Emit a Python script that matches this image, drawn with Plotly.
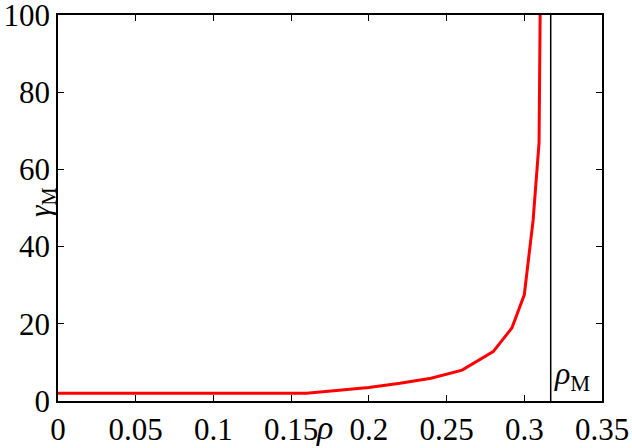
import plotly.graph_objects as go

# red curve gamma_M(rho)
rho = [0.0, 0.05, 0.10, 0.16, 0.20, 0.22, 0.24, 0.26, 0.28, 0.292, 0.300, 0.3057, 0.3095, 0.3102]
gamma_m = [2.0, 2.0, 2.0, 2.0, 3.5, 4.6, 5.9, 8.0, 12.8, 18.9, 27.5, 46.9, 66.9, 100.0]

rho_m = 0.317  # vertical marker line

x_ticks = [0, 0.05, 0.1, 0.15, 0.2, 0.25, 0.3, 0.35]
x_tick_text = ['0', '0.05', '0.1', '0.15', '0.2', '0.25', '0.3', '0.35']
y_ticks = [0, 20, 40, 60, 80, 100]

FONT = 'Liberation Serif, Times New Roman, serif'
TICK = dict(family=FONT, size=31, color='black')

fig = go.Figure()
fig.add_trace(go.Scatter(
    x=rho, y=gamma_m,
    mode='lines',
    line=dict(color='#ff0000', width=3),
    showlegend=False,
))

fig.add_vline(x=rho_m, line=dict(color='black', width=1.5))

fig.update_xaxes(
    range=[0, 0.35], tickvals=x_ticks, ticktext=x_tick_text,
    showline=True, linecolor='black', linewidth=1.5,
    mirror='ticks', ticks='inside', ticklen=6, tickwidth=1,
    tickcolor='black', showgrid=False, zeroline=False,
    tickfont=TICK, automargin=False, ticklabeloverflow='allow',
)
fig.update_yaxes(
    range=[0, 100], tickvals=y_ticks,
    showline=True, linecolor='black', linewidth=1.5,
    mirror='ticks', ticks='inside', ticklen=6, tickwidth=1,
    tickcolor='black', showgrid=False, zeroline=False,
    tickfont=TICK, automargin=False, ticklabeloverflow='allow',
)

# axis titles placed by hand, gnuplot style
fig.add_annotation(
    text='<i>ρ</i>', x=0.5, y=0, xref='paper', yref='paper',
    xshift=-6, yshift=-47, yanchor='bottom', showarrow=False,
    font=dict(family=FONT, size=34, color='black'),
)
fig.add_annotation(
    text='<i>γ</i><sub>M</sub>', x=0, y=0.513, xref='paper', yref='paper',
    xshift=-36, showarrow=False, textangle=-90,
    font=dict(family=FONT, size=29, color='black'),
)
fig.add_annotation(
    text='<i>ρ</i><sub>M</sub>', x=rho_m, y=0, xref='x', yref='paper',
    xanchor='left', yanchor='bottom', xshift=1, yshift=3, showarrow=False,
    font=dict(family=FONT, size=32, color='black'),
)

fig.update_layout(
    width=632, height=448,
    margin=dict(l=58, r=30, t=15, b=47),
    plot_bgcolor='white', paper_bgcolor='white',
    font=dict(family=FONT, size=31, color='black'),
)

fig.write_html('out.html', config={'displayModeBar': False},
               post_script="document.body.style.margin='0';")
